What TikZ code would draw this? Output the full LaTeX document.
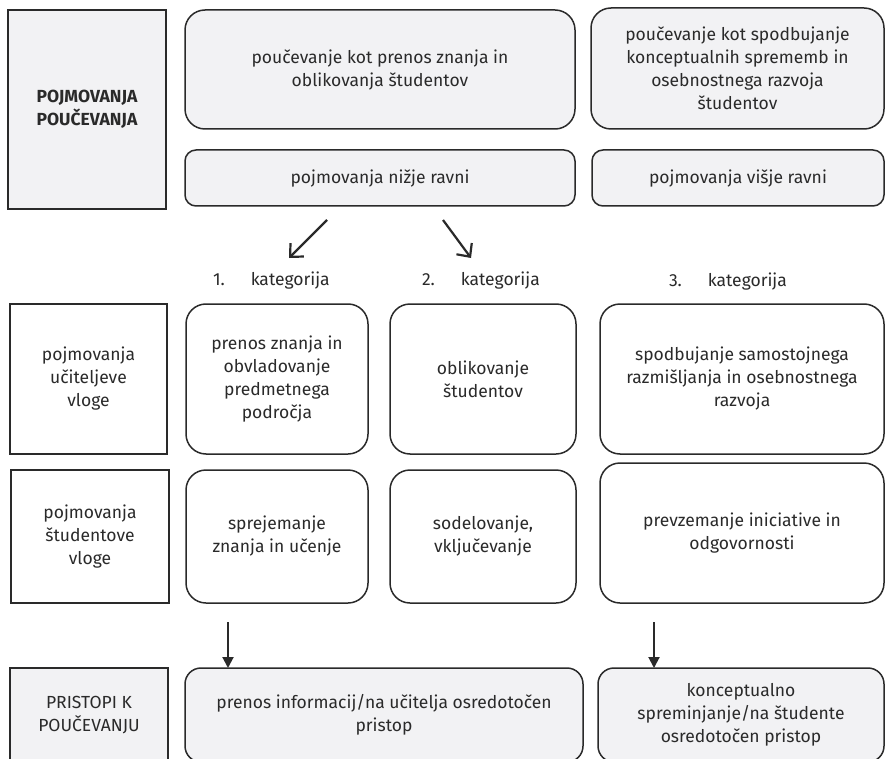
\documentclass[tikz,border=0pt]{standalone}
\usepackage{fontspec}
\setmainfont{Fira Sans}
\usetikzlibrary{arrows.meta}
\definecolor{boxfill}{HTML}{F2F2F4}
\definecolor{ink}{HTML}{2A2A2A}
\begin{document}
\begin{tikzpicture}[x=1pt,y=-1pt,
  every node/.style={font=\fontsize{17.5}{23}\selectfont, text=ink, align=center, inner sep=0pt, outer sep=0pt},
  basebox/.style={draw=ink, line width=1.5pt},
  headbox/.style={basebox, fill=boxfill},
  plainbox/.style={basebox, fill=white},
  biground/.style={rounded corners=20pt},
  smallround/.style={rounded corners=11pt},
  midround/.style={rounded corners=16pt},
  diagarrow/.style={line width=2.2pt, draw=ink, -{Straight Barb[length=10pt,width=19pt,line width=2.2pt]}},
  downarrow/.style={line width=2pt, draw=ink, -{Triangle[length=11pt,width=11pt]}},
  catlabel/.style={anchor=west}
]
\useasboundingbox[fill=white] (0,0) rectangle (885,759);

% top block: conceptions of teaching
\node[headbox, minimum width=158pt, minimum height=199pt] (title) at (87,109.5)
  {\bfseries POJMOVANJA\\\bfseries POUČEVANJA};
\node[headbox, biground, minimum width=390pt, minimum height=119pt] (low) at (380,69.5)
  {poučevanje kot prenos znanja in\\oblikovanja študentov};
\node[headbox, biground, minimum width=293pt, minimum height=121pt] (high) at (737.5,68.5)
  {poučevanje kot spodbujanje\\konceptualnih sprememb in\\osebnostnega razvoja\\študentov};
\node[headbox, smallround, minimum width=390pt, minimum height=56pt] (lowlvl) at (380,178)
  {pojmovanja nižje ravni};
\node[headbox, smallround, minimum width=292pt, minimum height=56pt] (highlvl) at (738,178)
  {pojmovanja višje ravni};

% split arrows towards the first two categories
\coordinate (splitL) at (327,220);
\coordinate (splitR) at (443,220);
\coordinate (cat1tip) at (289,258);
\coordinate (cat2tip) at (471,258);
\draw[diagarrow] (splitL) -- (cat1tip);
\draw[diagarrow] (splitR) -- (cat2tip);

% category headings
\node[catlabel] (cat1) at (213,281) {1.\hspace{26pt}kategorija};
\node[catlabel] (cat2) at (422,281) {2.\hspace{26pt}kategorija};
\node[catlabel] (cat3) at (669,282) {3.\hspace{26pt}kategorija};

% teacher's role
\node[plainbox, minimum width=157pt, minimum height=150pt] (teacher) at (88.5,379)
  {pojmovanja\\učiteljeve\\vloge};
\node[plainbox, biground, minimum width=182pt, minimum height=150pt] (t1) at (277,379)
  {prenos znanja in\\obvladovanje\\predmetnega\\področja};
\node[plainbox, biground, minimum width=186pt, minimum height=150pt] (t2) at (483,379)
  {oblikovanje\\študentov};
\node[plainbox, biground, minimum width=284pt, minimum height=150pt] (t3) at (742,379)
  {spodbujanje samostojnega\\razmišljanja in osebnostnega\\razvoja};

% student's role
\node[plainbox, minimum width=158pt, minimum height=133pt] (student) at (90,536.5)
  {pojmovanja\\študentove\\vloge};
\node[plainbox, biground, minimum width=182pt, minimum height=133pt] (s1) at (277,536.5)
  {sprejemanje\\znanja in učenje};
\node[plainbox, biground, minimum width=186pt, minimum height=133pt] (s2) at (483,536.5)
  {sodelovanje,\\vključevanje};
\node[plainbox, biground, minimum width=284pt, minimum height=140pt] (s3) at (742,533)
  {prevzemanje iniciative in\\odgovornosti};

% approaches to teaching
\node[headbox, minimum width=158pt, minimum height=94pt] (approach) at (89,715)
  {PRISTOPI K\\POUČEVANJU};
\node[headbox, midround, minimum width=398pt, minimum height=94pt] (a1) at (384,715)
  {prenos informacij/na učitelja osredotočen\\pristop};
\node[headbox, midround, minimum width=286pt, minimum height=94pt] (a2) at (741,715)
  {konceptualno\\spreminjanje/na študente\\osredotočen pristop};

% arrows into the approaches
\coordinate (drop1) at (228,622);
\coordinate (drop2) at (654,622);
\draw[downarrow] (drop1) -- (drop1 |- a1.north);
\draw[downarrow] (drop2) -- (drop2 |- a2.north);
\end{tikzpicture}
\end{document}
